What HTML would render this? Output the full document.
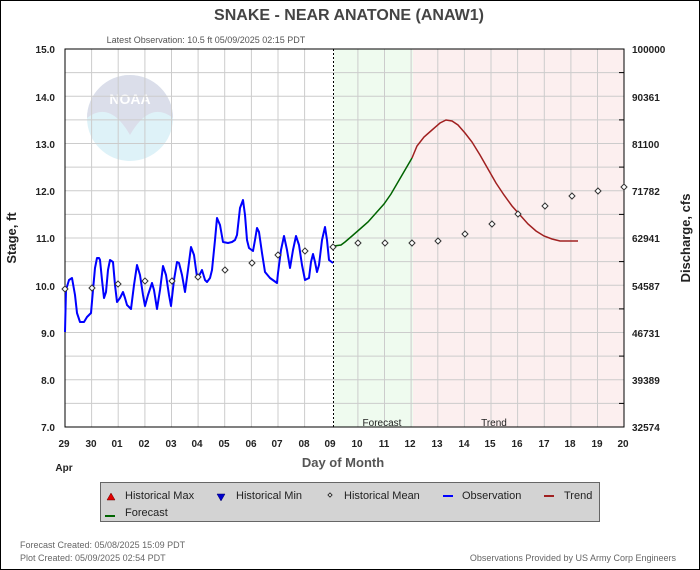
<!DOCTYPE html>
<html><head><meta charset="utf-8"><style>
body{margin:0;background:#fff}
svg{display:block;font-family:"Liberation Sans",sans-serif}
</style></head><body>
<svg width="700" height="570" viewBox="0 0 700 570">
<rect x="0.5" y="0.5" width="699" height="569" fill="#fff" stroke="#000"/>
<text x="349" y="20" text-anchor="middle" font-size="16" font-weight="bold" fill="#444">SNAKE - NEAR ANATONE  (ANAW1)</text>
<text x="206" y="43" text-anchor="middle" font-size="9" fill="#555">Latest Observation: 10.5 ft 05/09/2025 02:15 PDT</text>
<rect x="65" y="49" width="559" height="378" fill="#fff"/>
<rect x="334" y="49" width="79" height="378" fill="#effbef"/>
<rect x="413" y="49" width="211" height="378" fill="#fcefef"/>
<!-- NOAA logo -->
<g opacity="0.5">
<circle cx="130" cy="118" r="43" fill="#bfe6f2"/>
<path d="M87,118 A43,43 0 0 1 173,118 Q150,100 130,135 Q110,100 87,118Z" fill="#b9bfd6"/>
<text x="130" y="104" text-anchor="middle" font-size="14" font-weight="bold" fill="#fff">NOAA</text>
</g>
<g stroke="#ccc" stroke-width="1">
<line x1="65" y1="72.6" x2="624" y2="72.6"/><line x1="65" y1="96.25" x2="624" y2="96.25"/><line x1="65" y1="119.9" x2="624" y2="119.9"/><line x1="65" y1="143.5" x2="624" y2="143.5"/><line x1="65" y1="167.1" x2="624" y2="167.1"/><line x1="65" y1="190.75" x2="624" y2="190.75"/><line x1="65" y1="214.4" x2="624" y2="214.4"/><line x1="65" y1="238" x2="624" y2="238"/><line x1="65" y1="261.6" x2="624" y2="261.6"/><line x1="65" y1="285.25" x2="624" y2="285.25"/><line x1="65" y1="308.9" x2="624" y2="308.9"/><line x1="65" y1="332.5" x2="624" y2="332.5"/><line x1="65" y1="356.1" x2="624" y2="356.1"/><line x1="65" y1="379.75" x2="624" y2="379.75"/><line x1="65" y1="403.4" x2="624" y2="403.4"/>
<line x1="91.6" y1="49" x2="91.6" y2="427"/><line x1="118.2" y1="49" x2="118.2" y2="427"/><line x1="144.9" y1="49" x2="144.9" y2="427"/><line x1="171.5" y1="49" x2="171.5" y2="427"/><line x1="198.1" y1="49" x2="198.1" y2="427"/><line x1="224.7" y1="49" x2="224.7" y2="427"/><line x1="251.4" y1="49" x2="251.4" y2="427"/><line x1="278" y1="49" x2="278" y2="427"/><line x1="304.6" y1="49" x2="304.6" y2="427"/><line x1="357.9" y1="49" x2="357.9" y2="427"/><line x1="384.5" y1="49" x2="384.5" y2="427"/><line x1="411.1" y1="49" x2="411.1" y2="427"/><line x1="437.8" y1="49" x2="437.8" y2="427"/><line x1="464.4" y1="49" x2="464.4" y2="427"/><line x1="491" y1="49" x2="491" y2="427"/><line x1="517.6" y1="49" x2="517.6" y2="427"/><line x1="544.3" y1="49" x2="544.3" y2="427"/><line x1="570.9" y1="49" x2="570.9" y2="427"/><line x1="597.5" y1="49" x2="597.5" y2="427"/>
</g>
<line x1="333.5" y1="49" x2="333.5" y2="427" stroke="#000" stroke-dasharray="2,2"/>
<rect x="65" y="49" width="559" height="378" fill="none" stroke="#000"/>
<g stroke="#000"><line x1="624" y1="72.6" x2="619" y2="72.6"/><line x1="624" y1="119.9" x2="619" y2="119.9"/><line x1="624" y1="167.1" x2="619" y2="167.1"/><line x1="624" y1="214.4" x2="619" y2="214.4"/><line x1="624" y1="261.6" x2="619" y2="261.6"/><line x1="624" y1="308.9" x2="619" y2="308.9"/><line x1="624" y1="356.1" x2="619" y2="356.1"/><line x1="624" y1="403.4" x2="619" y2="403.4"/></g>
<text x="382" y="426" text-anchor="middle" font-size="10" fill="#222">Forecast</text>
<text x="494" y="426" text-anchor="middle" font-size="10" fill="#222">Trend</text>
<g font-size="10" font-weight="bold" fill="#222" text-anchor="end">
<text x="55" y="53">15.0</text><text x="55" y="101">14.0</text><text x="55" y="148">13.0</text><text x="55" y="195">12.0</text><text x="55" y="242">11.0</text><text x="55" y="290">10.0</text><text x="55" y="337">9.0</text><text x="55" y="384">8.0</text><text x="55" y="431">7.0</text>
</g>
<g font-size="10" font-weight="bold" fill="#222">
<text x="632" y="53">100000</text><text x="632" y="101">90361</text><text x="632" y="148">81100</text><text x="632" y="195">71782</text><text x="632" y="242">62941</text><text x="632" y="290">54587</text><text x="632" y="337">46731</text><text x="632" y="384">39389</text><text x="632" y="431">32574</text>
</g>
<g font-size="10" font-weight="bold" fill="#222" text-anchor="middle">
<text x="64" y="447">29</text><text x="91" y="447">30</text><text x="117" y="447">01</text><text x="144" y="447">02</text><text x="171" y="447">03</text><text x="197" y="447">04</text><text x="224" y="447">05</text><text x="251" y="447">06</text><text x="277" y="447">07</text><text x="304" y="447">08</text><text x="330" y="447">09</text><text x="357" y="447">10</text><text x="384" y="447">11</text><text x="410" y="447">12</text><text x="437" y="447">13</text><text x="464" y="447">14</text><text x="490" y="447">15</text><text x="517" y="447">16</text><text x="544" y="447">17</text><text x="570" y="447">18</text><text x="597" y="447">19</text><text x="623" y="447">20</text>
</g>
<text x="64" y="471" text-anchor="middle" font-size="10" font-weight="bold" fill="#222">Apr</text>
<text x="343" y="467" text-anchor="middle" font-size="13" font-weight="bold" fill="#555">Day of Month</text>
<text transform="translate(16,238) rotate(-90)" text-anchor="middle" font-size="13" font-weight="bold" fill="#222">Stage, ft</text>
<text transform="translate(690,238) rotate(-90)" text-anchor="middle" font-size="13" font-weight="bold" fill="#222">Discharge, cfs</text>
<!-- observation -->
<polyline fill="none" stroke="#0000ff" stroke-width="2" stroke-linejoin="round" points="65,332 66,290 69,280 72,278 75,295 77,313 80,322 84,322 87,317 91,313 93,290 95,268 97,258 99,258 100,260 102,280 104,298 106,292 108,270 110,260 113,262 115,285 117,302 120,298 123,292 125,298 127,305 131,309 134,285 137,265 140,275 143,295 145,306 148,295 152,283 154,290 157,309 160,290 163,266 166,275 169,295 171,306 174,280 177,262 179,263 182,275 185,292 188,270 191,247 194,255 197,277 200,274 202,270 205,280 207,282 210,278 212,270 215,240 217,218 220,225 223,242 228,243 232,242 235,240 237,235 240,208 243,200 245,215 247,240 249,248 253,251 255,240 257,228 259,232 262,253 265,272 270,278 277,283 278,273 281,250 284,236 287,250 290,268 293,250 296,236 299,245 302,265 305,280 309,278 311,262 313,254 315,262 317,272 319,265 322,240 325,227 327,240 329,260 333,263"/>
<!-- forecast -->
<polyline fill="none" stroke="#006400" stroke-width="1.5" points="334,246 341,245 345,242 352,236 360,229 368,222 376,213 384,204 391,194 398,182 405,170 412,158"/>
<!-- trend -->
<polyline fill="none" stroke="#a02020" stroke-width="1.5" points="412,158 417,146 424,137 432,130 440,123 446,120 452,121 458,125 465,133 472,142 480,155 488,169 496,183 504,195 512,206 520,215 528,224 536,231 544,236 552,239 560,241 568,241 578,241"/>
<!-- mean diamonds -->
<g fill="#fff" stroke="#333" stroke-width="1">
<path d="M65,286l3,3l-3,3l-3,-3z"/><path d="M92,285l3,3l-3,3l-3,-3z"/><path d="M118,281l3,3l-3,3l-3,-3z"/><path d="M145,278l3,3l-3,3l-3,-3z"/><path d="M172,278l3,3l-3,3l-3,-3z"/><path d="M198,274l3,3l-3,3l-3,-3z"/><path d="M225,267l3,3l-3,3l-3,-3z"/><path d="M252,260l3,3l-3,3l-3,-3z"/><path d="M278,252l3,3l-3,3l-3,-3z"/><path d="M305,248l3,3l-3,3l-3,-3z"/><path d="M333,244l3,3l-3,3l-3,-3z"/><path d="M358,240l3,3l-3,3l-3,-3z"/><path d="M385,240l3,3l-3,3l-3,-3z"/><path d="M412,240l3,3l-3,3l-3,-3z"/><path d="M438,238l3,3l-3,3l-3,-3z"/><path d="M465,231l3,3l-3,3l-3,-3z"/><path d="M492,221l3,3l-3,3l-3,-3z"/><path d="M518,211l3,3l-3,3l-3,-3z"/><path d="M545,203l3,3l-3,3l-3,-3z"/><path d="M572,193l3,3l-3,3l-3,-3z"/><path d="M598,188l3,3l-3,3l-3,-3z"/><path d="M624,184l3,3l-3,3l-3,-3z"/>
</g>
<!-- legend -->
<rect x="100.5" y="482.5" width="499" height="39" fill="#d3d3d3" stroke="#666"/>
<g font-size="11" fill="#222">
<path d="M107,500l4,-7l4,7z" fill="#e00000" stroke="#600" stroke-width="0.5"/><text x="125" y="499">Historical Max</text>
<path d="M217,494l4,7l4,-7z" fill="#0000cc" stroke="#006" stroke-width="0.5"/><text x="236" y="499">Historical Min</text>
<path d="M330,493l2,2l-2,2l-2,-2z" fill="#fff" stroke="#333"/><text x="344" y="499">Historical Mean</text>
<line x1="443" y1="496" x2="453" y2="496" stroke="#0000ff" stroke-width="2"/><text x="462" y="499">Observation</text>
<line x1="544" y1="496" x2="554" y2="496" stroke="#a02020" stroke-width="2"/><text x="564" y="499">Trend</text>
<line x1="105" y1="516" x2="115" y2="516" stroke="#006400" stroke-width="2"/><text x="125" y="516">Forecast</text>
</g>
<g font-size="9" fill="#666">
<text x="20" y="548">Forecast Created: 05/08/2025 15:09 PDT</text>
<text x="20" y="561">Plot Created: 05/09/2025 02:54 PDT</text>
<text x="676" y="561" text-anchor="end">Observations Provided by US Army Corp Engineers</text>
</g>
</svg>
</body></html>
